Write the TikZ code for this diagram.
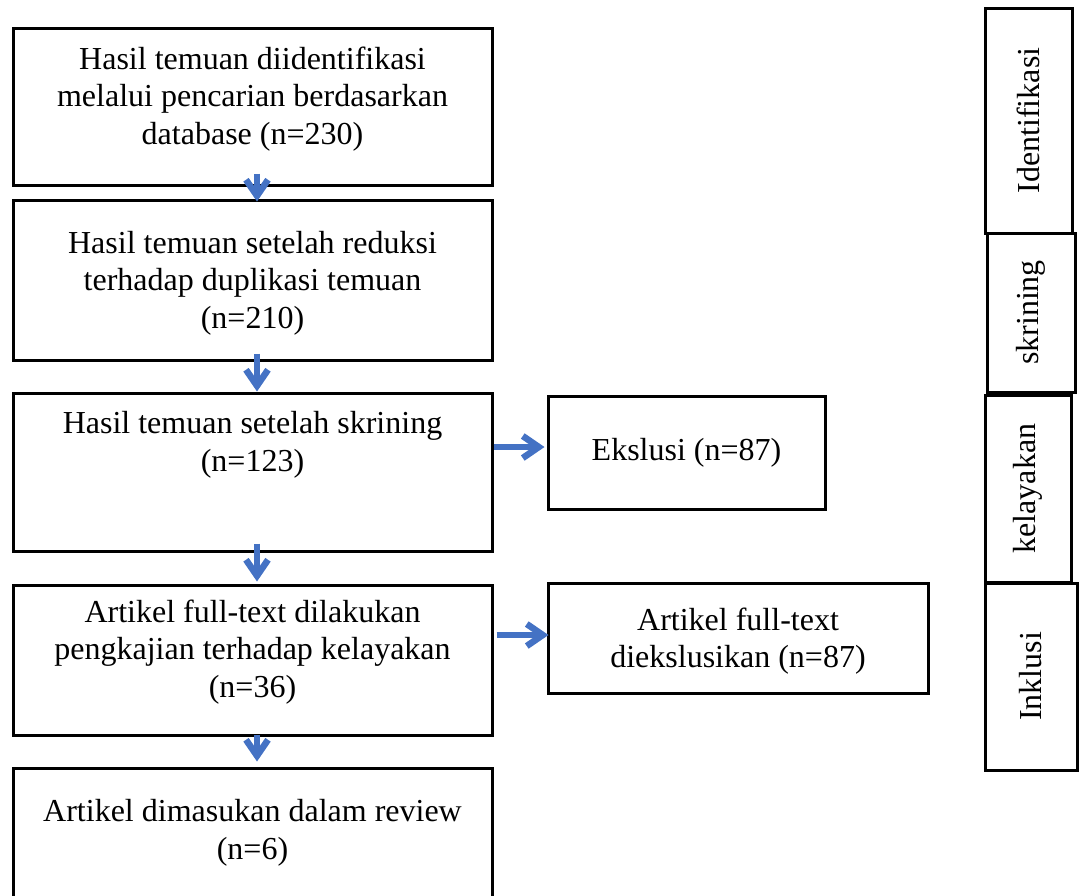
\documentclass[tikz,border=0pt]{standalone}
\usepackage{fontspec}
\setmainfont{Liberation Serif}
\usetikzlibrary{arrows.meta,calc}
\definecolor{arrblue}{RGB}{68,114,196}
\tikzset{
  box/.style={draw=black, line width=3pt, inner sep=0pt, fill=none},
  txt/.style={font=\fontsize{32}{37.5}\selectfont, align=center, inner sep=0pt},
  arr/.style={draw=arrblue, line width=5.5pt, -{Straight Barb[length=16pt,width=22pt,line width=6.5pt]}}
}
\begin{document}
\begin{tikzpicture}[x=1pt,y=-1pt]
\useasboundingbox (0,0) rectangle (1083,895);
\clip (0,0) rectangle (1083,895);
% main boxes
\node[box, minimum width=479pt, minimum height=157pt] (b1) at (252.5,106.5) {};
\node[box, minimum width=479pt, minimum height=160pt] (b2) at (252.5,280) {};
\node[box, minimum width=479pt, minimum height=158pt] (b3) at (252.5,472) {};
\node[box, minimum width=479pt, minimum height=150pt] (b4) at (252.5,660) {};
\node[box, minimum width=479pt, minimum height=160pt] (b5) at (252.5,848) {};
\node[box, minimum width=277pt, minimum height=113pt] (e1) at (686.5,452.5) {};
\node[box, minimum width=380pt, minimum height=110pt] (e2) at (738,638) {};
% side boxes
\node[box, minimum width=87pt, minimum height=225pt] (s1) at (1028.5,120.5) {};
\node[box, minimum width=88pt, minimum height=159pt] (s2) at (1031,312.5) {};
\node[box, minimum width=86pt, minimum height=187pt] (s3) at (1028,488.5) {};
\node[box, minimum width=92pt, minimum height=187pt] (s4) at (1031,676.5) {};
% texts
\node[txt] (t1) at (252.5,99) {Hasil temuan diidentifikasi\\melalui pencarian berdasarkan\\database (n=230)};
\node[txt] (t2) at (252.5,283) {Hasil temuan setelah reduksi\\terhadap duplikasi temuan\\(n=210)};
\node[txt] (t3) at (252.5,445) {Hasil temuan setelah skrining\\(n=123)};
\node[txt] (t4) at (252.5,652) {Artikel full-text dilakukan\\pengkajian terhadap kelayakan\\(n=36)};
\node[txt] (t5) at (252.5,833) {Artikel dimasukan dalam review\\(n=6)};
\node[txt] (te1) at (e1.center) {Ekslusi (n=87)};
\node[txt] (te2) at (738,641) {Artikel full-text\\diekslusikan (n=87)};
\node[txt, rotate=90] (ts1) at (s1.center) {Identifikasi};
\node[txt, rotate=90] (ts2) at (s2.center) {skrining};
\node[txt, rotate=90] (ts3) at (s3.center) {kelayakan};
\node[txt, rotate=90] (ts4) at (s4.center) {Inklusi};
% arrows
\draw[arr] ($(b1.south)+(4.5,-13)$) -- ($(b2.north)+(4.5,3)$);
\draw[arr] ($(b2.south)+(4.5,-8)$) -- ($(b3.north)+(4.5,0)$);
\draw[arr] ($(b3.south)+(4.5,-9)$) -- ($(b4.north)+(4.5,-2)$);
\draw[arr] ($(b4.south)+(4.5,-2)$) -- ($(b5.north)+(4.5,-5)$);
\draw[arr] ($(b3.east)+(0,-25)$) -- ($(e1.west)+(-2,-5.5)$);
\draw[arr] ($(b4.east)+(3,-25)$) -- ($(e2.west)+(2,-3)$);
\end{tikzpicture}
\end{document}
